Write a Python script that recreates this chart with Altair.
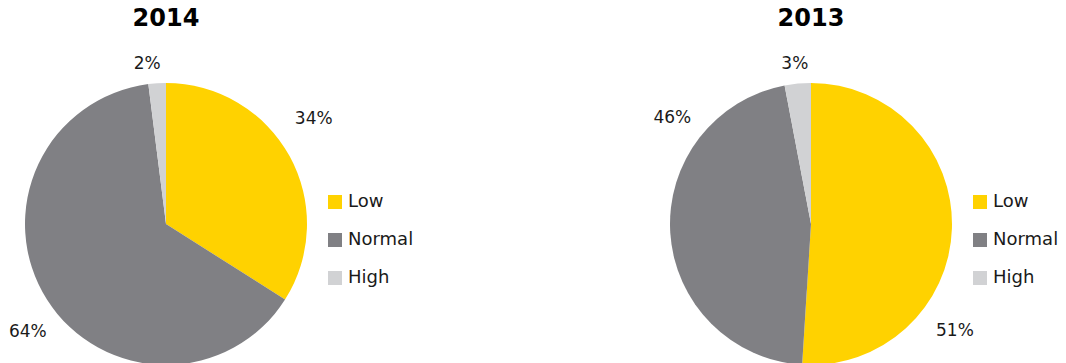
import altair as alt
import pandas as pd

categories = ["Low", "Normal", "High"]
values_2014 = [34, 64, 2]
values_2013 = [51, 46, 3]
years = ["2014", "2013"]
colors = ["#FFD200", "#808084", "#D1D2D4"]

FONT = "DejaVu Sans"
CY = 224
R = 141

# label nudges (style only), relative to the slice mid-angle at radius 172
label_nudge = {
    "2014": {"Low": (-3, -22), "Normal": (7, 16), "High": (-8, 12)},
    "2013": {"Low": (-28, 102), "Normal": (33, -117), "High": (0, 11)},
}


def pie(year, values, cx):
    df = pd.DataFrame({
        "category": categories,
        "value": values,
        "order": list(range(len(categories))),
        "label": [f"{v}%" for v in values],
    })
    base = alt.Chart(df)
    arcs = base.mark_arc(x=cx, y=CY, outerRadius=R).encode(
        theta=alt.Theta("value:Q", stack=True),
        order=alt.Order("order:Q"),
        color=alt.Color(
            "category:N",
            scale=alt.Scale(domain=categories, range=colors),
            sort=categories,
            legend=alt.Legend(
                orient="none", legendX=cx + 160, legendY=193, title=None,
                symbolType="square", symbolSize=196, symbolStrokeWidth=0,
                labelFont=FONT, labelFontSize=18, labelColor="#1a1a1a",
                rowPadding=20, labelOffset=4, padding=0,
            ),
        ),
    )
    stacked = base.transform_window(
        cum="sum(value)", sort=[alt.SortField("order")],
        frame=[None, 0],
    ).transform_calculate(mid="datum.cum - datum.value / 2")
    label_layers = []
    for cat in categories:
        ddx, ddy = label_nudge[year][cat]
        label_layers.append(
            stacked.transform_filter(alt.datum.category == cat).mark_text(
                x=cx, y=CY, radius=172, font=FONT, fontSize=17, color="#1a1a1a",
                align="center", baseline="middle", dx=ddx, dy=ddy,
            ).encode(
                theta=alt.Theta("mid:Q", stack=None),
                text="label:N",
            )
        )
    title = alt.Chart(pd.DataFrame({"year": [year]})).mark_text(
        x=cx, y=19, font=FONT, fontSize=24, fontWeight="bold", color="#000000",
        align="center", baseline="middle",
    ).encode(text="year:N")
    return alt.layer(arcs, *label_layers, title)


chart = alt.layer(
    pie(years[0], values_2014, 166),
    pie(years[1], values_2013, 811),
).resolve_scale(theta="independent", color="independent").properties(
    width=1066, height=363, autosize=alt.AutoSizeParams(type="none"), padding=0,
).configure_view(stroke=None)

chart.save("out.html", embed_options={"renderer": "svg", "actions": False})
